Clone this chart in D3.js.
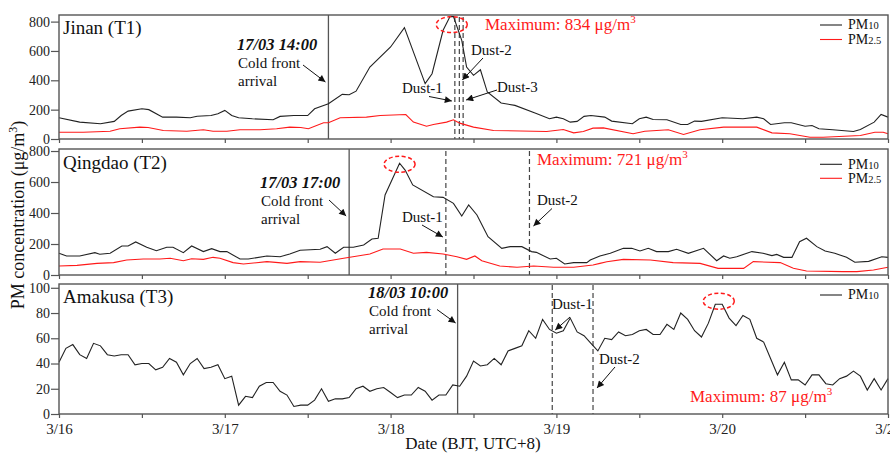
<!DOCTYPE html>
<meta charset='utf-8'>
<div class="chart"></div>
<script src="https://d3js.org/d3.v7.min.js"></script>
<style>
	body { margin: 0; background: #fff; }
	svg { font-family: "Liberation Serif", "Times New Roman", serif; }
	.frame { fill: none; stroke: #555; stroke-width: 1.4px; }
	.pm10 { fill: none; stroke: #222; stroke-width: 1.1px; }
	.pm25 { fill: none; stroke: #ff1a1a; stroke-width: 1.1px; }
	.axis path, .axis line { stroke: #555; stroke-width: 1.2px; }
	.axis text { font-family: "Liberation Serif", serif; fill: #222; }
	.event { stroke: #555; stroke-width: 1.3px; }
	.dust { stroke: #444; stroke-width: 1.2px; stroke-dasharray: 5,3; }
	.note { font-size: 15px; fill: #111; }
	.when { font-size: 16.5px; font-weight: bold; font-style: italic; fill: #111; }
	.maxtext { font-size: 17px; fill: #ff1a1a; }
	.ring { fill: none; stroke: #ff1a1a; stroke-width: 1.5px; stroke-dasharray: 4,2.5; }
	.arrow { stroke: #111; stroke-width: 1px; }
</style>
<script>
// hours after 3/16 00:00 (BJT)
var dayLabels = ["3/16", "3/17", "3/18", "3/19", "3/20", "3/21"];

// Jinan (T1)
var jinanHours10 = [0,3,6,8,9,10,12,13,15,17,19,20,22,23,24,25,26,28,31,32,34,36,37,39,41,42,43,45,48,50,53,54,55.6,56.6,57.1,58.3,59,60,61,62,64,66,69,71,72,73,74,75,76,77,79,80,83,84,85,86,88,90,91,92,93,96,99,101,102,103,105,106,108,109,110,112,115,116,118,119,120];
var jinanPM10 = [145,115,104,120,160,190,206,200,149,149,145,155,160,172,195,160,145,138,131,154,160,160,206,240,304,302,326,490,627,759,377,445,741,834,834,672,490,434,472,320,245,229,176,138,149,138,115,120,154,160,149,122,104,138,149,133,131,99,99,122,120,145,138,149,138,99,111,111,87,92,70,63,51,65,115,167,149];
var jinanHours25 = [0,3.5,7.4,8.8,11.7,12.9,15.1,18.5,20.9,22.3,24.3,26.2,29.1,31.5,33.4,35,36.1,38.3,39,40.7,44.5,46.5,50.2,51.3,53.2,54.2,56.1,57.1,58,60,62.9,68.7,70.6,73,74.5,75.9,77.3,78.8,83.1,84.8,88.2,90.4,92.8,96.2,101,103.2,105.8,108.7,110.6,116,118.1,119.3,120];
var jinanPM25 = [46,46,53,70,81,78,58,53,63,53,53,63,63,70,81,78,70,111,111,145,149,160,167,115,87,99,115,131,108,81,58,53,51,65,42,51,74,76,36,53,63,31,63,81,81,42,36,12,12,24,46,46,36];

// Qingdao (T2)
var qingdaoHours10 = [0,1.1,3,5.2,5.9,7.4,9.1,10,11.1,12.7,14.1,15.6,16.5,18,19.2,20.9,22.1,23.3,24.3,26.2,27.4,30.1,32,33.4,34.9,37.8,38.8,40,41.2,42.6,44.1,45.3,46.2,47.2,49.3,50.1,51.2,54.2,55.6,57.1,58.3,59.3,60.5,62.1,64.1,65.3,67,68.4,69.1,71.1,72,73.2,74.5,76.4,76.9,78.3,79.8,81.7,82.9,84.1,85.3,86.5,88.2,89.4,91.1,93.3,95.2,96.2,97.1,98.1,100.3,101.9,103.2,103.9,104.9,106.1,107.2,108.2,109.7,110.9,112.3,114,115.2,117.2,119.1,120];
var qingdaoPM10 = [140,123,123,144,134,140,187,187,213,179,157,179,179,144,187,151,170,151,151,103,103,123,118,135,160,166,183,140,179,179,194,232,237,516,721,677,581,505,501,462,381,452,387,247,172,183,183,151,146,103,108,71,80,80,97,123,140,172,172,155,172,151,151,166,140,172,92,123,108,118,151,140,125,133,114,114,215,237,183,155,140,114,82,88,118,114];
var qingdaoHours25 = [0,2.6,5.5,7.9,9.8,12.2,14.6,16.1,18,19.2,20.9,22.3,23.3,25.2,26.7,30.1,33,34.9,37.8,41.2,45,46.9,49.4,51.3,53.2,55.6,57.6,59,60.2,61.2,63.8,66.3,68.7,71.6,74.5,77.3,78.3,79.3,81.7,85.6,88.9,92.8,95.4,99.1,100.5,104.4,106.3,108.2,113.5,115.5,117.9,120];
var qingdaoPM25 = [58,62,75,80,97,103,103,108,92,105,101,114,108,80,71,86,75,86,82,108,135,168,168,140,146,135,118,101,123,92,58,50,58,50,50,65,75,86,101,97,80,75,43,43,86,80,43,26,22,22,32,50];

// Amakusa (T3), hourly
var amakusaPM10 = [41,52,55,47,44,56,54,47,46,47, 47,39,40,40,35,37,44,41,31,40, 44,36,37,39,28,30,7,14,13,22,
	25,25,18,15,6,7,7,11,20,10, 12,12,13,20,22,18,20,21,17,13, 15,15,21,18,11,15,15,23,22,30,
	42,38,39,44,39,50,52,54,66,60, 75,67,64,66,76,65,62,56,50,60, 59,65,62,63,66,67,63,63,71,67,
	80,75,66,61,72,87,87,76,70,78, 75,60,57,44,31,41,27,27,23,31, 31,24,23,28,30,34,30,19,28,19, 28];
var amakusaHours = d3.range(amakusaPM10.length);

// events (hours)
var coldFrontHours = [39, 42, 57.7];
var coldFrontLabels = ["17/03 14:00", "17/03 17:00", "18/03 10:00"];
var dustHours = [[57.3, 57.95, 58.5], [56, 68.1], [71.4, 77.3]];
var dustNames = [["Dust-1", "Dust-2", "Dust-3"], ["Dust-1", "Dust-2"], ["Dust-1", "Dust-2"]];
var maxValues = [834, 721, 87];
var maxHours = [56.85, 49.3, 95.5];

var width = 890, height = 453;
var left = 59, right = 888;
var x = d3.scaleLinear().domain([0, 120]).range([left, right]);

var svg = d3.select(".chart").append("svg")
	.attr("width", width)
	.attr("height", height);

svg.append("defs").append("marker")
	.attr("id", "head")
	.attr("viewBox", "0 0 10 10")
	.attr("refX", 10).attr("refY", 5)
	.attr("markerWidth", 9).attr("markerHeight", 7)
	.attr("markerUnits", "userSpaceOnUse")
	.attr("orient", "auto")
	.append("path").attr("d", "M0,0L10,5L0,10Z").attr("fill", "#111");

var panels = [
	{ title: "Jinan (T1)", top: 15, bottom: 139, ymax: 845, yticks: [0, 200, 400, 600, 800],
	  series: [[jinanHours10, jinanPM10, "pm10"], [jinanHours25, jinanPM25, "pm25"]],
	  legendY: [25, 39.5], titleY: 34,
	  when: [237, 50], ringDy: 8, maxPos: [485, 30],
	  front: [[303, 65], -3, 82],
	  dustText: [[402, 93], [471, 55], [497, 92]],
	  dustArrow: [[[429, 96.5], -3, 101], [[483, 58], 3, 80], [[497, 90], 3, 100]],
	  dustTop: 17 },
	{ title: "Qingdao (T2)", top: 149, bottom: 275, ymax: 813, yticks: [0, 200, 400, 600, 800],
	  series: [[qingdaoHours10, qingdaoPM10, "pm10"], [qingdaoHours25, qingdaoPM25, "pm25"]],
	  legendY: [164.3, 178.3], titleY: 169,
	  when: [260, 188], ringDy: 1, maxPos: [537, 165],
	  front: [[329, 200], -3, 216],
	  dustText: [[402, 221.5], [537, 205]],
	  dustArrow: [[[422, 225], -3, 237], [[552, 208.5], 4, 226]],
	  dustTop: 151 },
	{ title: "Amakusa (T3)", top: 284, bottom: 414, ymax: 103, yticks: [0, 20, 40, 60, 80, 100],
	  series: [[amakusaHours, amakusaPM10, "pm10"]],
	  legendY: [295], titleY: 303,
	  when: [368, 298], ringDy: -3, maxPos: [690, 402],
	  front: [[437, 309.5], -2, 323],
	  dustText: [[552, 309], [599, 364]],
	  dustArrow: [[[570, 317], 3, 330], [[615, 367], 4, 388]],
	  dustTop: 285 }
];

panels.forEach(function(p, i) {
	var y = d3.scaleLinear().domain([0, p.ymax]).range([p.bottom, p.top]);
	var g = svg.append("g");
	var last = i == panels.length - 1;

	// event lines
	g.append("line").attr("class", "event")
		.attr("x1", x(coldFrontHours[i])).attr("x2", x(coldFrontHours[i]))
		.attr("y1", p.top).attr("y2", p.bottom);
	g.selectAll(".dust").data(dustHours[i]).enter()
		.append("line").attr("class", "dust")
		.attr("x1", function(d) { return x(d); }).attr("x2", function(d) { return x(d); })
		.attr("y1", p.dustTop).attr("y2", p.bottom);

	// series, red under black
	p.series.slice().reverse().forEach(function(s) {
		var pts = s[0].map(function(h, k) { return [h, s[1][k]]; });
		g.append("path").datum(pts).attr("class", s[2])
			.attr("d", d3.line().x(function(d) { return x(d[0]); }).y(function(d) { return y(d[1]); }));
	});

	g.append("rect").attr("class", "frame")
		.attr("x", left).attr("y", p.top)
		.attr("width", right - left).attr("height", p.bottom - p.top);

	var ya = g.append("g").attr("class", "axis")
		.attr("transform", "translate(" + left + ",0)")
		.call(d3.axisLeft(y).tickValues(p.yticks).tickSizeInner(8).tickSizeOuter(0).tickPadding(1));
	ya.selectAll("text").style("font-size", "14px");
	ya.select(".domain").remove();

	var xa = g.append("g").attr("class", "axis")
		.attr("transform", "translate(0," + p.bottom + ")")
		.call(d3.axisBottom(x).tickValues(d3.range(0, 121, 12)).tickSizeInner(4).tickSizeOuter(0).tickPadding(5)
			.tickFormat(function(h) { return last && h % 24 == 0 ? dayLabels[h / 24] : ""; }));
	xa.selectAll("text").style("font-size", "15px");
	xa.select(".domain").remove();

	// title
	g.append("text").attr("x", 63).attr("y", p.titleY)
		.style("font-size", "19px").style("fill", "#111").text(p.title);

	// legend
	p.series.forEach(function(s, k) {
		g.append("line").attr("class", s[2])
			.attr("x1", 820).attr("x2", 842)
			.attr("y1", p.legendY[k]).attr("y2", p.legendY[k]);
		var t = g.append("text").attr("x", 848).attr("y", p.legendY[k] + 4.3)
			.style("font-size", "14px").style("fill", "#111");
		t.append("tspan").text("PM");
		t.append("tspan").style("font-size", "10.5px").text(s[2] == "pm10" ? "10" : "2.5");
	});

	// cold front note
	g.append("text").attr("class", "when").attr("x", p.when[0]).attr("y", p.when[1]).text(coldFrontLabels[i]);
	g.append("text").attr("class", "note").attr("x", p.when[0] + 1).attr("y", p.when[1] + 18).text("Cold front");
	g.append("text").attr("class", "note").attr("x", p.when[0] + 1).attr("y", p.when[1] + 36).text("arrival");
	g.append("line").attr("class", "arrow").attr("marker-end", "url(#head)")
		.attr("x1", p.front[0][0]).attr("y1", p.front[0][1])
		.attr("x2", x(coldFrontHours[i]) + p.front[1]).attr("y2", p.front[2]);

	// dust notes
	dustNames[i].forEach(function(name, k) {
		g.append("text").attr("class", "note")
			.attr("x", p.dustText[k][0]).attr("y", p.dustText[k][1]).text(name);
		var a = p.dustArrow[k];
		g.append("line").attr("class", "arrow").attr("marker-end", "url(#head)")
			.attr("x1", a[0][0]).attr("y1", a[0][1])
			.attr("x2", x(dustHours[i][k]) + a[1]).attr("y2", a[2]);
	});

	// maximum
	g.append("ellipse").attr("class", "ring")
		.attr("cx", x(maxHours[i])).attr("cy", y(maxValues[i]) + p.ringDy)
		.attr("rx", 15.5).attr("ry", 8);
	var m = g.append("text").attr("class", "maxtext").attr("x", p.maxPos[0]).attr("y", p.maxPos[1]);
	m.append("tspan").text("Maximum: " + maxValues[i] + " \u03bcg/m");
	m.append("tspan").attr("dy", -7).style("font-size", "11px").text("3");
});

// axis titles
var yt = svg.append("text")
	.attr("transform", "translate(24,215) rotate(-90)")
	.attr("text-anchor", "middle")
	.style("font-size", "18px").style("fill", "#111");
yt.append("tspan").text("PM concentration (\u03bcg/m");
yt.append("tspan").attr("dy", -7).style("font-size", "12px").text("3");
yt.append("tspan").attr("dy", 7).text(")");

svg.append("text")
	.attr("x", 473).attr("y", 449)
	.attr("text-anchor", "middle")
	.style("font-size", "17px").style("fill", "#111")
	.text("Date (BJT, UTC+8)");
</script>
